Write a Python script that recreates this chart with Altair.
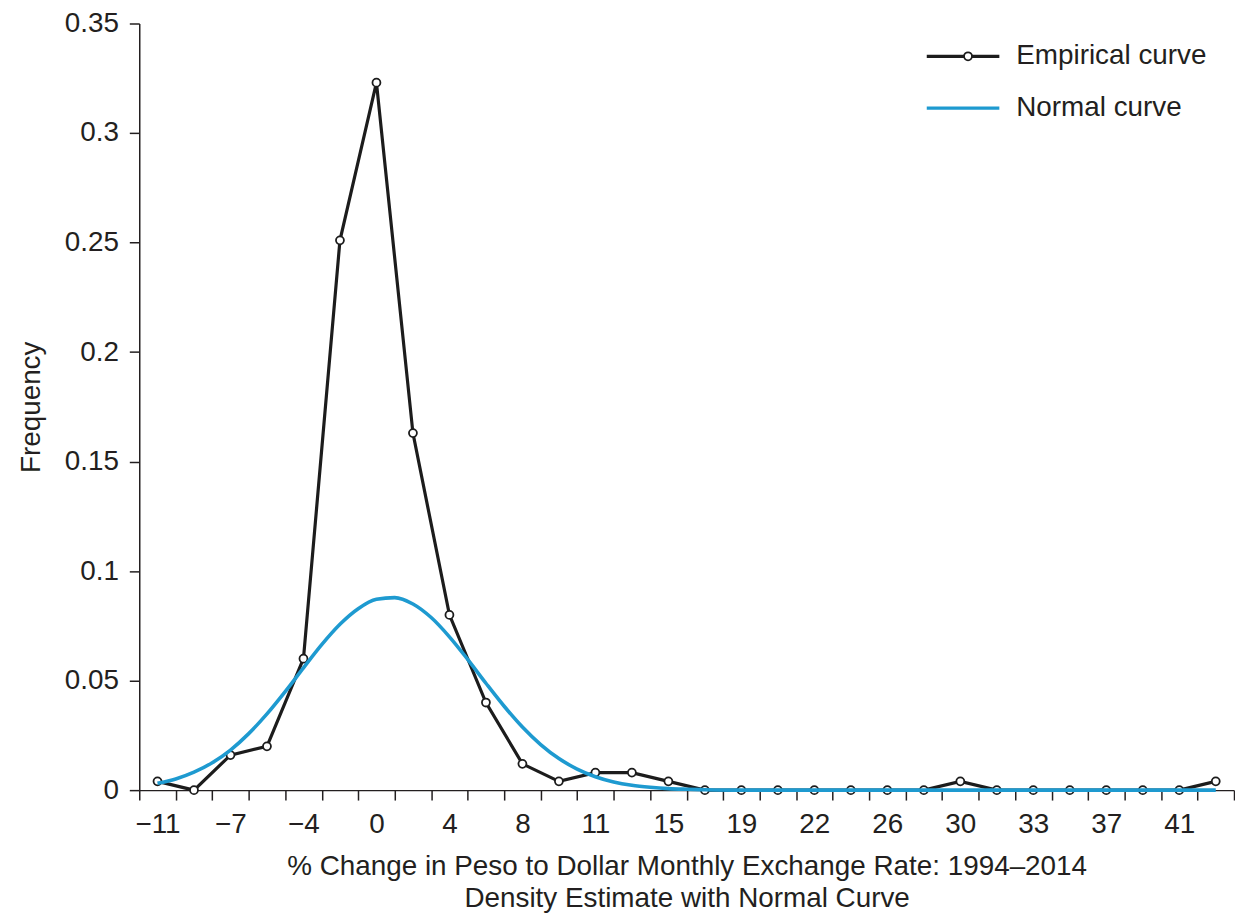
import altair as alt
import pandas as pd

# ---- data ----
tick_labels = ["−11", "−7", "−4", "0", "4", "8", "11", "15", "19", "22", "26", "30", "33", "37", "41"]

emp_bins = [0, 1, 2, 3, 4, 5, 6, 7, 8, 9, 10, 11, 12, 13, 14, 15, 16, 17, 18, 19,
            20, 21, 22, 23, 24, 25, 26, 27, 28, 29]
emp_vals = [0.004, 0.0, 0.016, 0.020, 0.060, 0.251, 0.323, 0.163, 0.080, 0.040,
            0.012, 0.004, 0.008, 0.008, 0.004, 0.0, 0.0, 0.0, 0.0, 0.0,
            0.0, 0.0, 0.004, 0.0, 0.0, 0.0, 0.0, 0.0, 0.0, 0.004]

norm_pos = [0, 0.5, 1, 1.5, 2, 2.5, 3, 3.5, 4, 4.5, 5, 5.5, 6, 6.5, 7, 7.5, 8, 8.5,
            9, 9.5, 10, 10.5, 11, 11.5, 12, 12.5, 13, 13.5, 14, 14.5, 15,
            16, 17, 18, 19, 20, 21, 22, 23, 24, 25, 26, 27, 28, 29]
norm_vals = [0.0031, 0.0051, 0.0082, 0.0125, 0.0183, 0.0258, 0.0348, 0.0450, 0.0558,
             0.0664, 0.0757, 0.0828, 0.0871, 0.0879, 0.0850, 0.0788, 0.0700, 0.0597,
             0.0488, 0.0383, 0.0288, 0.0208, 0.0144, 0.0096, 0.0061, 0.0037, 0.0022,
             0.0013, 0.0007, 0.0004, 0.0002,
             0, 0, 0, 0, 0, 0, 0, 0, 0, 0, 0, 0, 0, 0]

y_ticks = [0, 0.05, 0.1, 0.15, 0.2, 0.25, 0.3, 0.35]
series_names = ["Empirical curve", "Normal curve"]
series_colors = ["#1c1c1c", "#1e9ad0"]

x_title = ["% Change in Peso to Dollar Monthly Exchange Rate: 1994–2014",
           "Density Estimate with Normal Curve"]
y_title = "Frequency"

emp_df = pd.DataFrame({"bin": emp_bins, "freq": emp_vals, "series": series_names[0]})
norm_df = pd.DataFrame({"bin": norm_pos, "freq": norm_vals, "series": series_names[1]})

FONT = "Liberation Sans"
INK = "#231f20"
FS = 28

labels_js = "[" + ",".join("'%s'" % t for t in tick_labels) + "]"
label_expr = ("((datum.value + 0.5) % 2 == 0 && datum.value < 29) ? "
              + labels_js + "[(datum.value + 0.5) / 2] : ''")

x_axis = alt.Axis(
    values=[i - 0.5 for i in range(31)],
    labelExpr=label_expr,
    labelOffset=18.35,
    labelAlign="center",
    tickSize=10, tickWidth=1.5, tickColor=INK,
    domainWidth=1.5, domainColor=INK,
    labelPadding=11, labelFont=FONT, labelFontSize=FS, labelColor=INK,
    labelOverlap=False, labelFlush=False, labelBound=False,
    grid=False,
    titleFont=FONT, titleFontSize=FS, titleFontWeight="normal", titleColor=INK,
    titleY=85, titleBaseline="alphabetic", titleLineHeight=32,
)
y_axis = alt.Axis(
    values=y_ticks, format="~g",
    tickSize=10, tickWidth=1.5, tickColor=INK,
    domainWidth=1.5, domainColor=INK,
    labelPadding=11, labelFont=FONT, labelFontSize=FS, labelColor=INK,
    grid=False,
    titleFont=FONT, titleFontSize=FS, titleFontWeight="normal", titleColor=INK,
    titleAngle=270, titleX=-100, titleY=385.5, titleAlign="center",
    titleBaseline="alphabetic",
)

x_enc = alt.X("bin:Q", scale=alt.Scale(domain=[-0.5, 29.5], nice=False, zero=False),
              axis=x_axis, title=x_title)
y_enc = alt.Y("freq:Q", scale=alt.Scale(domain=[0, 0.35], nice=False, zero=True),
              axis=y_axis, title=y_title)

line_legend = alt.Legend(
    orient="none", legendX=790, legendY=18, title=None, padding=0,
    labelFont=FONT, labelFontSize=FS, labelColor=INK, labelOffset=15, labelLimit=400,
    symbolType="stroke", symbolSize=5329, symbolStrokeWidth=3.3,
    clipHeight=30, rowPadding=22, zindex=1,
)
color_enc = alt.Color("series:N",
                      scale=alt.Scale(domain=series_names, range=series_colors),
                      legend=line_legend)

# circle marker drawn on top of the first legend line
point_legend = alt.Legend(
    orient="none", legendX=819.5, legendY=18, title=None, padding=0,
    labelExpr="''", labelFontSize=FS, labelOffset=0,
    symbolStrokeWidth=1.8, symbolSize=64, symbolOpacity=1, symbolType="circle",
    clipHeight=30, zindex=2,
)
stroke_enc = alt.Stroke("series:N",
                        scale=alt.Scale(domain=[series_names[0]], range=[series_colors[0]]),
                        legend=point_legend)

emp_line = alt.Chart(emp_df).mark_line(strokeWidth=3.2).encode(
    x=x_enc, y=y_enc, color=color_enc)
emp_points = alt.Chart(emp_df).mark_point(
    filled=True, fill="white", strokeWidth=1.8, size=64, opacity=1,
    shape="circle").encode(x=x_enc, y=y_enc, stroke=stroke_enc)
norm_line = alt.Chart(norm_df).mark_line(strokeWidth=3.6, interpolate="monotone").encode(
    x=x_enc, y=y_enc, color=color_enc)

chart = alt.layer(emp_line, emp_points, norm_line).properties(
    width=1101, height=771,
    padding={"left": 132, "top": 13, "right": 1, "bottom": 124},
    autosize=alt.AutoSizeParams(type="none"),
    background="white",
).configure_view(stroke=None)

chart.save("out.html", embed_options={"renderer": "svg", "actions": False})
